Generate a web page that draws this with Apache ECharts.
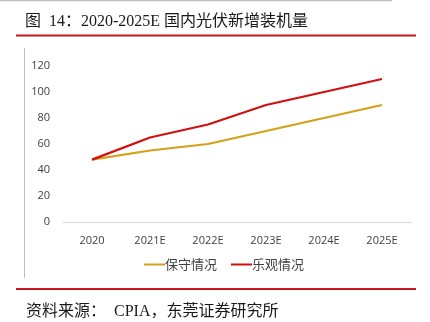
<!DOCTYPE html>
<html><head><meta charset="utf-8">
<script src="https://cdn.jsdelivr.net/npm/echarts@6/dist/echarts.min.js"></script>
<style>html,body{margin:0;padding:0;background:#fff}#c{width:430px;height:322px}</style>
</head><body><div id="c"></div>
<script>
var categories = ['2020','2021E','2022E','2023E','2024E','2025E'];
var conservative = [48, 55, 60, 70, 80, 90];
var optimistic = [48, 65, 75, 90, 100, 110];
var yTicks = [0, 20, 40, 60, 80, 100, 120];
var seriesNames = ['保守情况', '乐观情况'];
var titleText = '图  14：2020-2025E 国内光伏新增装机量';
var sourceText = '资料来源：  CPIA，东莞证券研究所';

var chart = echarts.init(document.getElementById('c'), null, {renderer:'canvas'});
var lbl = {color:'#404040', fontSize:11, fontFamily:'"Open Sans","Noto Sans",sans-serif'};
chart.setOption({
  animation:false,
  backgroundColor:'#fff',
  grid:{left:63, right:19, top:66, bottom:100},
  legend:{
    data:seriesNames, top:253, left:139, itemWidth:21, itemHeight:2, itemGap:14,
    icon:'rect',
    textStyle:{color:'#404040', fontSize:13, fontFamily:'"Noto Sans CJK SC",sans-serif', padding:[0,0,0,-5]}
  },
  xAxis:{
    type:'category', data:categories, boundaryGap:true,
    axisLine:{lineStyle:{color:'#d9d9d9', width:1}},
    axisTick:{show:false},
    axisLabel:Object.assign({margin:13}, lbl)
  },
  yAxis:{
    type:'value', min:yTicks[0], max:yTicks[yTicks.length-1], interval:20,
    axisLine:{show:false}, axisTick:{show:false},
    splitLine:{show:false},
    axisLabel:Object.assign({margin:13}, lbl)
  },
  series:[
    {name:seriesNames[0], type:'line', data:conservative, symbol:'none', lineStyle:{color:'#d4a017', width:2.2}, itemStyle:{color:'#d4a017'}},
    {name:seriesNames[1], type:'line', data:optimistic, symbol:'none', lineStyle:{color:'#d00f0f', width:2.2}, itemStyle:{color:'#d00f0f'}}
  ],
  graphic:[
    {type:'line', shape:{x1:0,y1:0.5,x2:392,y2:0.5}, style:{stroke:'#bfbfbf', lineWidth:1.5}},
    {type:'text', left:25, top:14, style:{text:titleText, fill:'#1a1a1a', fontSize:16, fontFamily:'"Liberation Serif","Noto Sans CJK SC",serif'}},
    {type:'line', shape:{x1:16,y1:35.5,x2:416,y2:35.5}, style:{stroke:'#c8161d', lineWidth:2}},
    {type:'line', shape:{x1:24.5,y1:48,x2:24.5,y2:278}, style:{stroke:'#bfbfbf', lineWidth:1}},
    {type:'line', shape:{x1:16,y1:289,x2:416,y2:289}, style:{stroke:'#c8161d', lineWidth:2}},
    {type:'text', left:26, top:304, style:{text:sourceText, fill:'#1a1a1a', fontSize:16, fontFamily:'"Liberation Serif","Noto Sans CJK SC",serif'}}
  ]
});
</script></body></html>
